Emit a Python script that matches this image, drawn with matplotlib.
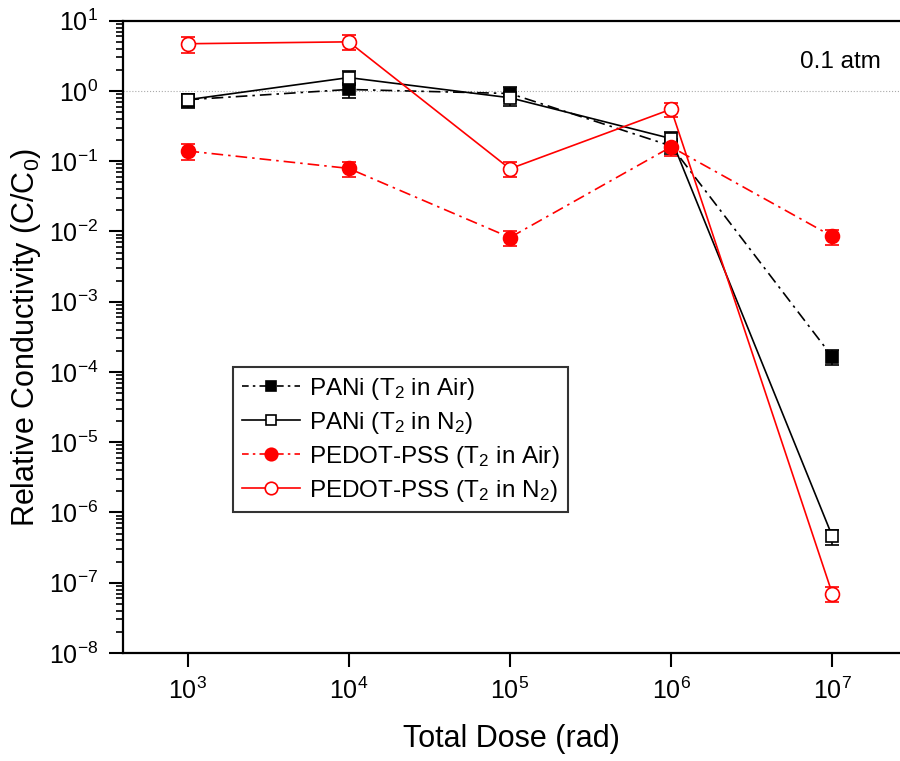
import matplotlib
matplotlib.use("Agg")
import matplotlib.pyplot as plt
from matplotlib.lines import Line2D
import numpy as np

plt.rcParams['font.family'] = ['Liberation Sans', 'DejaVu Sans']
plt.rcParams['mathtext.fontset'] = 'custom'
plt.rcParams['mathtext.rm'] = 'Liberation Sans'
plt.rcParams['mathtext.it'] = 'Liberation Sans:italic'

# data
dose = [1e3, 1e4, 1e5, 1e6, 1e7]
pani_air = [0.75, 1.05, 0.92, 0.165, 1.65e-4]
pani_air_err = [0.16, 0.25, 0.2, 0.04, 0.4e-4]
pani_n2 = [0.75, 1.55, 0.8, 0.21, 4.6e-7]
pani_n2_err = [0.17, 0.35, 0.18, 0.05, 1.1e-7]
pedot_air = [0.14, 0.079, 0.0082, 0.16, 0.0085]
pedot_air_err = [0.035, 0.02, 0.002, 0.04, 0.002]
pedot_n2 = [4.7, 5.0, 0.078, 0.55, 7.0e-8]
pedot_n2_err = [1.2, 1.2, 0.019, 0.13, 1.7e-8]

labels = ['PANi (T$_2$ in Air)', 'PANi (T$_2$ in N$_2$)',
          'PEDOT-PSS (T$_2$ in Air)', 'PEDOT-PSS (T$_2$ in N$_2$)']

fig = plt.figure(figsize=(9, 7.61), dpi=100)
ax = fig.add_axes([0.1367, 0.1419, 0.8633, 0.8309])

dashdot = (0, (7, 3, 1.5, 3))
ax.axhline(1.0, color='#aaaaaa', lw=0.8, ls=':', zorder=0)

styles = [
    dict(color='black', ls=dashdot, marker='s', ms=8.5, mfc='black', mec='black'),
    dict(color='black', ls='-', marker='s', ms=8.5, mfc='white', mec='black'),
    dict(color='red', ls=dashdot, marker='o', ms=10, mfc='red', mec='red'),
    dict(color='red', ls='-', marker='o', ms=10, mfc='white', mec='red'),
]
series = [(pani_air, pani_air_err), (pani_n2, pani_n2_err),
          (pedot_air, pedot_air_err), (pedot_n2, pedot_n2_err)]

handles = []
for (vals, err), st, lab in zip(series, styles, labels):
    ax.errorbar(dose, vals, yerr=err, lw=1.2, mew=1.2, capsize=5,
                elinewidth=1.2, capthick=1.2, **st)
    h_st = dict(st)
    h_st['ms'] = st['ms'] - 1.0
    if h_st['ls'] != '-':
        h_st['ls'] = (0, (4, 2.5, 1.5, 2.5))
    handles.append(Line2D([], [], lw=1.2, mew=1.2, label=lab, **h_st))

ax.set_xscale('log')
ax.set_yscale('log')
ax.set_xlim(10**2.6, 10**7.42)
ax.set_ylim(1e-8, 1e1)
ax.set_xticks(dose)
ax.xaxis.set_minor_locator(matplotlib.ticker.NullLocator())
ax.yaxis.set_major_locator(matplotlib.ticker.LogLocator(base=10, numticks=20))
ax.yaxis.set_minor_locator(matplotlib.ticker.LogLocator(base=10, subs=np.arange(2, 10), numticks=20))
ax.yaxis.set_minor_formatter(matplotlib.ticker.NullFormatter())

ax.tick_params(which='major', direction='out', length=10, width=1.5, labelsize=18, pad=8)
ax.tick_params(which='minor', direction='out', length=5, width=1.2)
for s in ['left', 'bottom', 'top']:
    ax.spines[s].set_linewidth(1.6)
ax.spines['right'].set_visible(False)

ax.set_xlabel('Total Dose (rad)', fontsize=22, labelpad=14)
ax.set_ylabel('Relative Conductivity (C/C$_0$)', fontsize=22, labelpad=4)

ax.text(0.975, 0.935, '0.1 atm', transform=ax.transAxes, fontsize=17.5,
        ha='right', va='center')

leg = ax.legend(handles=handles, loc='upper left', bbox_to_anchor=(0.142, 0.452),
                fontsize=17.5, frameon=True, fancybox=False, edgecolor='black',
                handlelength=2.4, borderpad=0.35, labelspacing=0.33,
                handletextpad=0.35, borderaxespad=0)
leg.get_frame().set_linewidth(1.5)

fig.savefig('out.png', dpi=100)
